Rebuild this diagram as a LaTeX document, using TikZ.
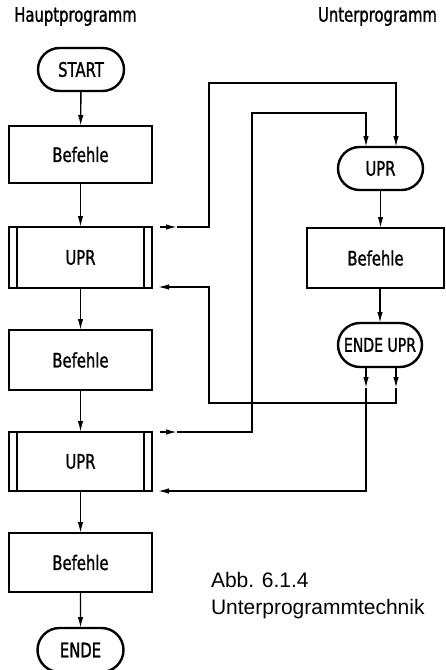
\documentclass[tikz,border=0pt]{standalone}
\usepackage{fontspec}
\setmainfont{Liberation Sans}
\newfontfamily\dinfont[FakeStretch=0.74,FakeBold=1.2]{DejaVu Sans}
\usetikzlibrary{shapes.misc,arrows.meta,calc}
\begin{document}
\begin{tikzpicture}[x=1pt,y=-1pt,
  every node/.style={font=\dinfont\fontsize{20}{24}\selectfont, inner sep=0pt, outer sep=0pt},
  term/.style={rounded rectangle, draw, line width=2.4pt, minimum width=86pt, minimum height=43pt},
  box/.style={rectangle, draw, line width=2.8pt, minimum width=143pt, minimum height=58pt},
  con/.style={line width=1.4pt},
  arr/.style={con, -{Latex[length=11pt,width=5.5pt]}},
  innerline/.style={line width=1.6pt}
]
\useasboundingbox (0,0) rectangle (446,670);

% headers
\node[anchor=base] (hp) at (75.5,21.7) {Hauptprogramm};
\node[anchor=base] (up) at (377.5,21.7) {Unterprogramm};

% main program
\node[term] (start) at (81,69.5) {START};
\node[box, minimum height=57pt] (b1) at (80.5,154.5) {Befehle};
\node[box, minimum height=61pt] (u1) at (80.5,257.5) {UPR};
\node[box, minimum height=60pt] (b2) at (80.5,360) {Befehle};
\node[box, minimum height=59pt] (u2) at (80.5,461.5) {UPR};
\node[box, minimum height=59pt] (b3) at (80.5,562.5) {Befehle};
\node[term, minimum height=44pt] (ende) at (80.5,650) {ENDE};

\foreach \n in {u1,u2}{
  \draw[innerline] ([xshift=8pt]\n.north west) -- ([xshift=8pt]\n.south west);
  \draw[innerline] ([xshift=-8pt]\n.north east) -- ([xshift=-8pt]\n.south east);
}

% subroutine
\node[term, minimum width=85pt] (su) at (380.5,168.5) {UPR};
\node[box, minimum width=137pt, minimum height=60pt] (sb) at (375.5,258) {Befehle};
\node[term, minimum width=84pt, minimum height=44pt, font=\dinfont\fontsize{19}{22}\selectfont] (se) at (380,345) {ENDE UPR};

% caption
\node[anchor=base west, font=\fontsize{21}{25}\selectfont] (cap1) at (211,587) {Abb. 6.1.4};
\node[anchor=base west, font=\fontsize{21}{25}\selectfont] (cap2) at (211,614) {Unterprogrammtechnik};

% main flow
\draw[arr] (start) -- (b1);
\draw[arr] (b1) -- (u1);
\draw[arr] (u1) -- (b2);
\draw[arr] (b2) -- (u2);
\draw[arr] (u2) -- (b3);
\draw[arr] (b3) -- (ende);

% subroutine flow
\draw[arr] (su.south) -- (su.south |- sb.north);
\draw[arr] (se.north |- sb.south) -- (se.north);

% bend coordinates
\coordinate (k1) at (396,83);
\coordinate (k2) at (366,113);
\coordinate (v1) at (209,0);
\coordinate (v2) at (252,0);
\coordinate (hr) at (0,403);

% call 1
\coordinate (c1a) at ($(u1.north east)+(8,0)$);
\draw[arr] (c1a) -- ++(17,0) coordinate (c1m);
\draw[arr] (c1m) -- (c1m -| v1) -- (v1 |- k1) -- (k1) -- (k1 |- su.north);

% call 2
\coordinate (c2a) at ($(u2.north east)+(8,0)$);
\draw[arr] (c2a) -- ++(17,0) coordinate (c2m);
\draw[arr] (c2m) -- (c2m -| v2) -- (v2 |- k2) -- (k2) -- (k2 |- su.north);

% return 1
\coordinate (r1a) at (se.south -| k1);
\coordinate (r1e) at ($(u1.south east)+(6,-1)$);
\draw[arr] (r1a) -- ++(0,21) coordinate (r1m);
\draw[arr] (r1m) -- (hr -| k1) -- (hr -| v1) -- (v1 |- r1e) -- (r1e);

% return 2
\coordinate (r2a) at (se.south -| k2);
\coordinate (r2e) at ($(u2.south east)+(6,0)$);
\draw[arr] (r2a) -- ++(0,21) coordinate (r2m);
\draw[arr] (r2m) -- (r2m |- r2e) -- (r2e);
\end{tikzpicture}
\end{document}
